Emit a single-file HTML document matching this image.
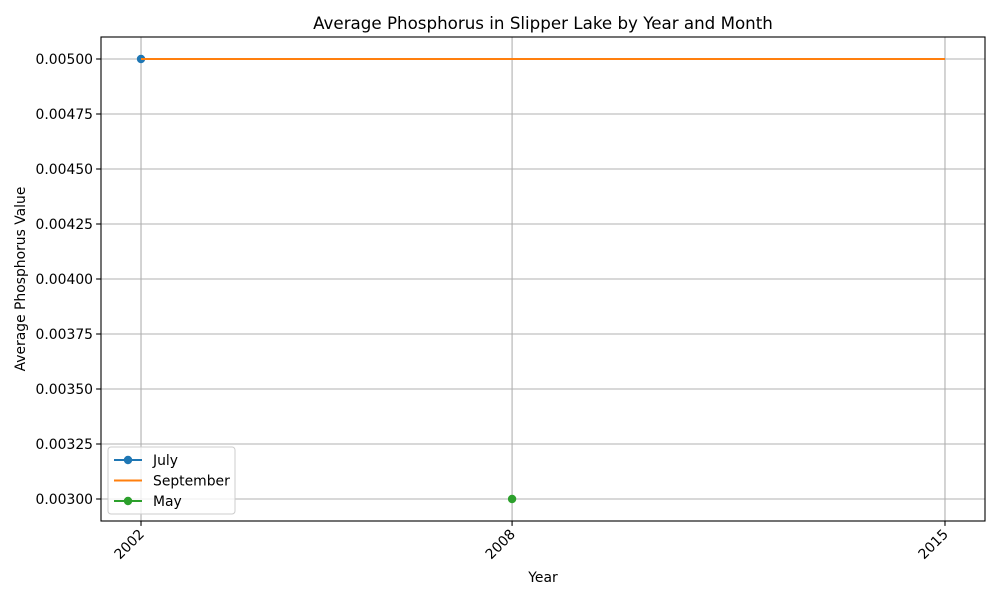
<!DOCTYPE html>
<html><head><meta charset="utf-8"><style>
body{margin:0;background:#fff;font-family:"Liberation Sans","DejaVu Sans",sans-serif;}
svg text{font-family:"DejaVu Sans","Liberation Sans",sans-serif;}
</style></head><body>
<svg id="chart" width="1000" height="600" xmlns="http://www.w3.org/2000/svg">
<rect width="1000" height="600" fill="#fff"/>
<text x="543" y="29" font-size="16.7" text-anchor="middle" fill="#000">Average Phosphorus in Slipper Lake by Year and Month</text>
<g id="grid"></g><g id="axes"></g><g id="series"></g>
<text x="543" y="582" font-size="13.9" text-anchor="middle">Year</text>
<text transform="translate(25,279) rotate(-90)" font-size="13.9" text-anchor="middle">Average Phosphorus Value</text>
<g id="legend"></g>
</svg>
<script>
const xTicks=[2002,2008,2015];
const yTicks=[0.003,0.00325,0.0035,0.00375,0.004,0.00425,0.0045,0.00475,0.005];
const julyYears=[2002];
const julyValues=[0.005];
const septemberYears=[2002,2015];
const septemberValues=[0.005,0.005];
const mayYears=[2008];
const mayValues=[0.003];

const L=101,R=985,T=37,B=521;
const xMin=2001.353,xMax=2015.647;
const yMin=0.0029,yMax=0.0051;
const sx=v=>L+(v-xMin)/(xMax-xMin)*(R-L);
const sy=v=>B-(v-yMin)/(yMax-yMin)*(B-T);
const NS="http://www.w3.org/2000/svg";
function mk(tag,attrs,parent){const e=document.createElementNS(NS,tag);for(const k in attrs)e.setAttribute(k,attrs[k]);parent.appendChild(e);return e;}
const grid=document.getElementById('grid'),axes=document.getElementById('axes'),series=document.getElementById('series');
xTicks.forEach(t=>{
  const x=sx(t);
  const g=mk('line',{x1:x,x2:x,y1:T,y2:B,stroke:'#b0b0b0','stroke-width':1.1},grid);
  
  
  mk('line',{x1:x,x2:x,y1:B,y2:B+4.9,stroke:'#000','stroke-width':1.1},axes);
  const tx=mk('text',{x:x+4,y:B+14,'font-size':13.9,'text-anchor':'end',transform:`rotate(-45 ${x+4} ${B+14})`},axes);
  tx.textContent=t;
  
  
});
yTicks.forEach(t=>{
  const y=sy(t);
  const g=mk('line',{x1:L,x2:R,y1:y,y2:y,stroke:'#b0b0b0','stroke-width':1.1},grid);
  
  
  mk('line',{x1:L-4.9,x2:L,y1:y,y2:y,stroke:'#000','stroke-width':1.1},axes);
  const tx=mk('text',{x:L-8,y:y+5,'font-size':13.9,'text-anchor':'end'},axes);
  tx.textContent=t.toFixed(5);
  
  
});
const frame=mk('rect',{x:L,y:T,width:R-L,height:B-T,fill:'none',stroke:'#000','stroke-width':1.1},axes);


function drawSeries(xs,ys,color,marker,name){
  const pts=xs.map((x,i)=>sx(x)+','+sy(ys[i])).join(' ');
  const pl=mk('polyline',{points:pts,fill:'none',stroke:color,'stroke-width':2.1},series);
  
  
  if(marker)xs.forEach((x,i)=>{
    const c=mk('circle',{cx:sx(x),cy:sy(ys[i]),r:4.2,fill:color},series);
    
    
  });
}
drawSeries(julyYears,julyValues,'#1f77b4',true,'july');
drawSeries(septemberYears,septemberValues,'#ff7f0e',false,'september');
drawSeries(mayYears,mayValues,'#2ca02c',true,'may');
const lg=document.getElementById('legend');
const box=mk('rect',{x:108,y:447,width:127,height:67,rx:3,fill:'#fff','fill-opacity':0.8,stroke:'#ccc'},lg);


[['July','#1f77b4',true],['September','#ff7f0e',false],['May','#2ca02c',true]].forEach((d,i)=>{
  const y=460+i*20.5;
  const g=mk('g',{},lg);
  
  
  mk('line',{x1:114,x2:142,y1:y,y2:y,stroke:d[1],'stroke-width':2.1},g);
  if(d[2])mk('circle',{cx:128,cy:y,r:4.2,fill:d[1]},g);
  const t=mk('text',{x:153,y:y+5,'font-size':13.9},g);t.textContent=d[0];
});
</script>
</body></html>
